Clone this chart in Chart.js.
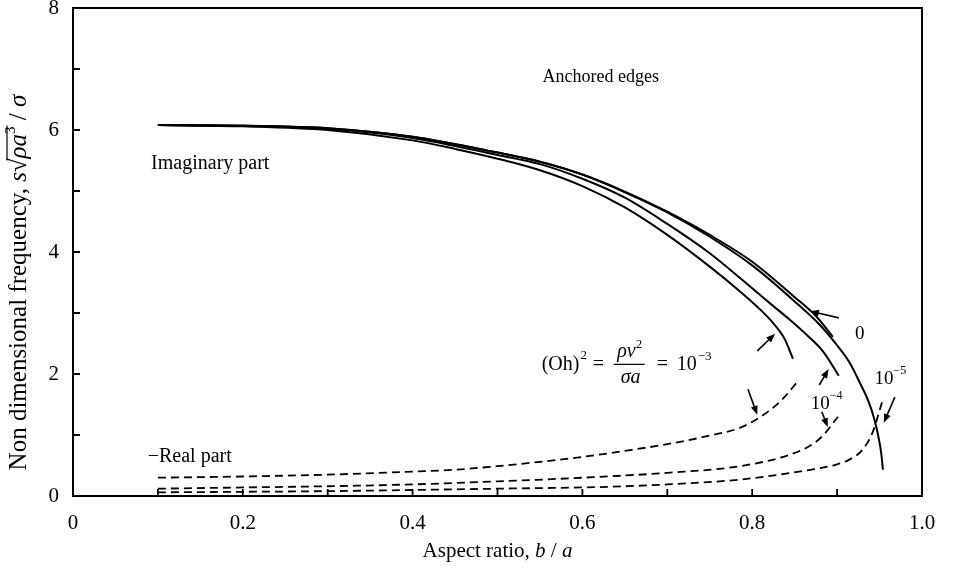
<!DOCTYPE html>
<html>
<head>
<meta charset="utf-8">
<script src="https://cdn.jsdelivr.net/npm/chart.js@4.4.0/dist/chart.umd.min.js"></script>
<style>
  html, body { margin: 0; padding: 0; background: #fff; }
  canvas { display: block; }
</style>
</head>
<body>
<canvas id="chart" width="964" height="569"></canvas>
<script>
// ==========================
// Data
// ==========================
// Imaginary part, solid lines, one per (Oh)^2
const imagX_0 = [0.1, 0.2, 0.3, 0.4, 0.5, 0.55, 0.6, 0.65, 0.7, 0.75, 0.8, 0.85, 0.875, 0.895];
const imagY_0 = [6.08, 6.07, 6.03, 5.89, 5.63, 5.48, 5.27, 4.99, 4.66, 4.28, 3.84, 3.26, 2.95, 2.61];

const imagX_1e5 = [0.1, 0.2, 0.3, 0.4, 0.5, 0.55, 0.6, 0.65, 0.7, 0.75, 0.8, 0.85, 0.88, 0.9, 0.915, 0.927, 0.937, 0.944, 0.949, 0.952, 0.954];
const imagY_1e5 = [6.08, 6.07, 6.03, 5.89, 5.63, 5.48, 5.27, 4.98, 4.65, 4.25, 3.78, 3.19, 2.80, 2.47, 2.18, 1.85, 1.55, 1.25, 0.95, 0.70, 0.43];

const imagX_1e4 = [0.1, 0.2, 0.3, 0.4, 0.5, 0.55, 0.6, 0.65, 0.7, 0.75, 0.786, 0.82, 0.845, 0.865, 0.884, 0.902];
const imagY_1e4 = [6.08, 6.07, 6.02, 5.87, 5.59, 5.44, 5.20, 4.89, 4.46, 3.98, 3.57, 3.17, 2.88, 2.63, 2.36, 1.97];

const imagX_1e3 = [0.1, 0.2, 0.3, 0.4, 0.45, 0.5, 0.55, 0.6, 0.65, 0.7, 0.75, 0.786, 0.81, 0.825, 0.838, 0.848];
const imagY_1e3 = [6.08, 6.06, 6.00, 5.83, 5.69, 5.53, 5.34, 5.08, 4.73, 4.28, 3.76, 3.35, 3.05, 2.83, 2.58, 2.25];

// Real part, dashed lines
const realX_1e3 = [0.1, 0.2, 0.3, 0.4, 0.45, 0.5, 0.55, 0.6, 0.65, 0.7, 0.75, 0.786, 0.81, 0.833, 0.855];
const realY_1e3 = [0.30, 0.32, 0.35, 0.40, 0.43, 0.49, 0.56, 0.64, 0.74, 0.85, 0.99, 1.12, 1.30, 1.55, 1.90];

const realX_1e4 = [0.1, 0.2, 0.3, 0.4, 0.5, 0.6, 0.7, 0.786, 0.845, 0.87, 0.884, 0.901];
const realY_1e4 = [0.12, 0.14, 0.16, 0.19, 0.24, 0.30, 0.38, 0.49, 0.68, 0.84, 1.00, 1.30];

const realX_1e5 = [0.1, 0.3, 0.5, 0.63, 0.7, 0.786, 0.864, 0.9, 0.915, 0.93, 0.942, 0.953];
const realY_1e5 = [0.06, 0.08, 0.12, 0.15, 0.19, 0.27, 0.42, 0.52, 0.60, 0.76, 1.05, 1.54];

// Axes
const xMin = 0, xMax = 1.0, xStep = 0.1;
const yMin = 0, yMax = 8, yStep = 1;

// ==========================
// Helpers
// ==========================
const SERIF = "'Liberation Serif', 'Times New Roman', serif";

function toPoints(xs, ys) {
  return xs.map((x, i) => ({ x: x, y: ys[i] }));
}

function lineSet(label, xs, ys, dashed) {
  return {
    label: label,
    data: toPoints(xs, ys),
    showLine: true,
    borderColor: "#000",
    borderWidth: dashed ? 1.8 : 2,
    borderDash: dashed ? [8, 5] : [],
    pointRadius: 0,
    cubicInterpolationMode: "monotone",
    fill: false
  };
}

// draw a run of text pieces left to right, returns total width
function runs(ctx, parts, x, y, measureOnly) {
  let cx = x;
  parts.forEach(p => {
    ctx.font = (p.italic ? "italic " : "") + p.size + "px " + SERIF;
    if (!measureOnly) ctx.fillText(p.t, cx, y + (p.dy || 0));
    cx += ctx.measureText(p.t).width;
  });
  return cx - x;
}

function arrow(ctx, x1, y1, x2, y2) {
  const ang = Math.atan2(y2 - y1, x2 - x1);
  const len = 9, hw = 3.5;
  ctx.beginPath();
  ctx.moveTo(x1, y1);
  ctx.lineTo(x2 - Math.cos(ang) * len * 0.8, y2 - Math.sin(ang) * len * 0.8);
  ctx.lineWidth = 1.6;
  ctx.stroke();
  ctx.beginPath();
  ctx.moveTo(x2, y2);
  ctx.lineTo(x2 - Math.cos(ang) * len - Math.sin(ang) * hw, y2 - Math.sin(ang) * len + Math.cos(ang) * hw);
  ctx.lineTo(x2 - Math.cos(ang) * len + Math.sin(ang) * hw, y2 - Math.sin(ang) * len - Math.cos(ang) * hw);
  ctx.closePath();
  ctx.fill();
}

// ==========================
// Frame, inward ticks, titles and notes
// ==========================
const figurePlugin = {
  id: "figure",
  afterDraw(chart) {
    const ctx = chart.ctx;
    const a = chart.chartArea;
    const xs = chart.scales.x, ys = chart.scales.y;
    const px = v => xs.getPixelForValue(v);
    const py = v => ys.getPixelForValue(v);

    ctx.save();
    ctx.strokeStyle = "#000";
    ctx.fillStyle = "#000";

    // box
    ctx.lineWidth = 2;
    ctx.strokeRect(a.left, a.top, a.right - a.left, a.bottom - a.top);

    // inward ticks
    ctx.lineWidth = 1.8;
    ctx.beginPath();
    xs.ticks.forEach(t => {
      const p = px(t.value);
      if (p <= a.left + 1 || p >= a.right - 1) return;
      ctx.moveTo(p, a.bottom);
      ctx.lineTo(p, a.bottom - 7);
    });
    ys.ticks.forEach(t => {
      const p = py(t.value);
      if (p <= a.top + 1 || p >= a.bottom - 1) return;
      ctx.moveTo(a.left, p);
      ctx.lineTo(a.left + 7, p);
    });
    ctx.stroke();

    ctx.textBaseline = "alphabetic";
    ctx.textAlign = "left";

    // x title
    const xt = [
      { t: "Aspect ratio, ", size: 21 },
      { t: "b", size: 21, italic: true },
      { t: " / ", size: 21 },
      { t: "a", size: 21, italic: true }
    ];
    const xw = runs(ctx, xt, 0, 0, true);
    runs(ctx, xt, (a.left + a.right) / 2 - xw / 2, 557);

    // y title, rotated
    ctx.save();
    ctx.translate(26, py(3.5));
    ctx.rotate(-Math.PI / 2);
    const yt = [
      { t: "Non dimensional frequency, ", size: 25 },
      { t: "s", size: 25, italic: true },
      { t: "\u221A", size: 25 }
    ];
    const rad = [
      { t: "\u03C1a", size: 25, italic: true },
      { t: "3", size: 15, dy: -11 }
    ];
    const tail = [
      { t: " / ", size: 25 },
      { t: "\u03C3", size: 25, italic: true }
    ];
    const w1 = runs(ctx, yt, 0, 0, true);
    const w2 = runs(ctx, rad, 0, 0, true);
    const w3 = runs(ctx, tail, 0, 0, true);
    const sx = -(w1 + w2 + w3) / 2;
    runs(ctx, yt, sx, 0);
    runs(ctx, rad, sx + w1, 0);
    ctx.lineWidth = 1.2;
    ctx.beginPath();
    ctx.moveTo(sx + w1 - 2, -19);
    ctx.lineTo(sx + w1 + w2 + 1, -19);
    ctx.stroke();
    runs(ctx, tail, sx + w1 + w2, 0);
    ctx.restore();

    // plain notes
    ctx.font = "18px " + SERIF;
    ctx.fillText("Anchored edges", px(0.553), py(6.78));
    ctx.font = "20px " + SERIF;
    ctx.fillText("Imaginary part", px(0.092), py(5.36));
    ctx.fillText("\u2212Real part", px(0.088), py(0.56));

    // (Oh)^2 = rho nu^2 / sigma a = 10^-3
    const fx = px(0.552), fy = py(2.06);
    const ohw = runs(ctx, [{ t: "(Oh)", size: 20 }], fx, fy);
    runs(ctx, [{ t: "2", size: 13 }], fx + ohw + 1, fy - 11);
    runs(ctx, [{ t: "=", size: 20 }], fx + 51, fy);
    const num = [{ t: "\u03C1v", size: 20, italic: true }, { t: "2", size: 13, dy: -9 }];
    const nw = runs(ctx, num, 0, 0, true);
    runs(ctx, num, fx + 88 - nw / 2, fy - 13);
    ctx.lineWidth = 1.2;
    ctx.beginPath();
    ctx.moveTo(fx + 72, fy - 6);
    ctx.lineTo(fx + 103, fy - 6);
    ctx.stroke();
    const den = [{ t: "\u03C3a", size: 20, italic: true }];
    const dw = runs(ctx, den, 0, 0, true);
    runs(ctx, den, fx + 89 - dw / 2, fy + 13);
    runs(ctx, [{ t: "=", size: 20 }], fx + 115, fy);
    const tw = runs(ctx, [{ t: "10", size: 20 }], fx + 135, fy);
    runs(ctx, [{ t: "\u22123", size: 13 }], fx + 135 + tw + 1, fy - 10);

    // curve labels
    runs(ctx, [{ t: "0", size: 19 }], px(0.921), py(2.58));
    runs(ctx, [{ t: "10", size: 19 }], px(0.944), py(1.83));
    runs(ctx, [{ t: "\u22125", size: 12 }], px(0.944) + 19, py(1.83) - 10);
    runs(ctx, [{ t: "10", size: 19 }], px(0.869), py(1.42));
    runs(ctx, [{ t: "\u22124", size: 12 }], px(0.869) + 19, py(1.42) - 10);

    // arrows
    arrow(ctx, px(0.902), py(2.92), px(0.868), py(3.03));
    arrow(ctx, px(0.968), py(1.62), px(0.955), py(1.20));
    arrow(ctx, px(0.879), py(1.82), px(0.890), py(2.08));
    arrow(ctx, px(0.882), py(1.38), px(0.889), py(1.13));
    arrow(ctx, px(0.806), py(2.38), px(0.827), py(2.66));
    arrow(ctx, px(0.795), py(1.75), px(0.806), py(1.33));

    ctx.restore();
  }
};

// ==========================
// Chart
// ==========================
const tickFont = { family: SERIF, size: 21 };

new Chart(document.getElementById("chart"), {
  type: "scatter",
  data: {
    datasets: [
      lineSet("Imag (Oh)^2 = 0", imagX_0, imagY_0, false),
      lineSet("Imag (Oh)^2 = 1e-5", imagX_1e5, imagY_1e5, false),
      lineSet("Imag (Oh)^2 = 1e-4", imagX_1e4, imagY_1e4, false),
      lineSet("Imag (Oh)^2 = 1e-3", imagX_1e3, imagY_1e3, false),
      lineSet("Real (Oh)^2 = 1e-3", realX_1e3, realY_1e3, true),
      lineSet("Real (Oh)^2 = 1e-4", realX_1e4, realY_1e4, true),
      lineSet("Real (Oh)^2 = 1e-5", realX_1e5, realY_1e5, true)
    ]
  },
  options: {
    responsive: false,
    animation: false,
    layout: { padding: { top: 8, right: 42, left: 0, bottom: 0 } },
    plugins: {
      legend: { display: false },
      tooltip: { enabled: false }
    },
    scales: {
      x: {
        type: "linear",
        min: xMin,
        max: xMax,
        afterFit: s => {
          s.height = 73;
          s.paddingLeft = 0;
          s.paddingRight = 0;
        },
        grid: { display: false, drawTicks: false },
        border: { display: false },
        ticks: {
          stepSize: xStep,
          autoSkip: false,
          maxRotation: 0,
          padding: 15,
          color: "#000",
          font: tickFont,
          callback: v => {
            const k = Math.round(v * 10);
            if (k % 2 !== 0) return "";
            return k === 0 ? "0" : (k / 10).toFixed(1);
          }
        }
      },
      y: {
        min: yMin,
        max: yMax,
        afterFit: s => {
          s.width = 73;
          s.paddingTop = 0;
          s.paddingBottom = 0;
        },
        grid: { display: false, drawTicks: false },
        border: { display: false },
        ticks: {
          stepSize: yStep,
          autoSkip: false,
          padding: 14,
          color: "#000",
          font: tickFont,
          callback: v => (v % 2 === 0 ? String(v) : "")
        }
      }
    }
  },
  plugins: [figurePlugin]
});
</script>
</body>
</html>
